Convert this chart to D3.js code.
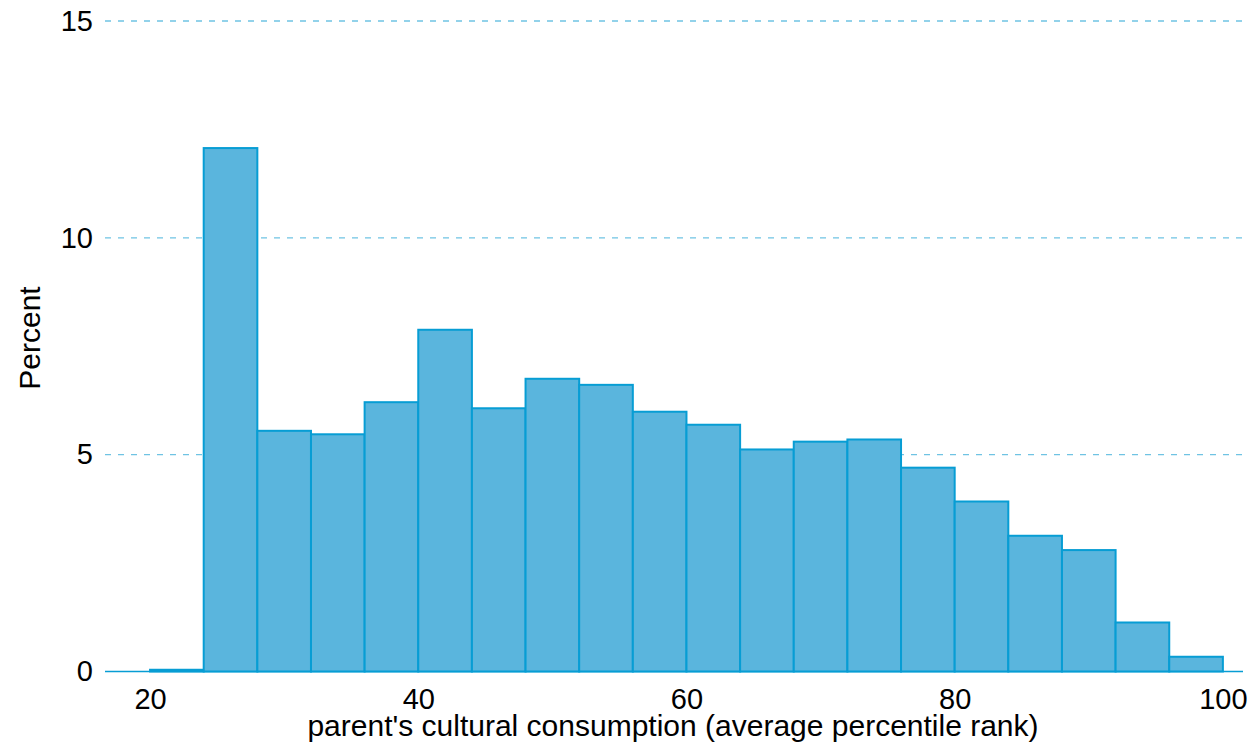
<!DOCTYPE html>
<html>
<head>
<meta charset="utf-8">
<script src="https://cdn.jsdelivr.net/npm/d3@7"></script>
<style>
  html, body { margin: 0; padding: 0; background: #fff; }
  svg { display: block; font-family: "Liberation Sans", Arial, sans-serif; }
</style>
</head>
<body>
<svg id="chart" width="1253" height="750"></svg>
<script>
// Bin left edges (width 4) and percent values
const binStarts = [20, 24, 28, 32, 36, 40, 44, 48, 52, 56, 60, 64, 68, 72, 76, 80, 84, 88, 92, 96];
const percents  = [0.04, 12.07, 5.55, 5.47, 6.21, 7.88, 6.07, 6.75, 6.61, 5.99, 5.69, 5.12, 5.30, 5.35, 4.70, 3.92, 3.13, 2.80, 1.13, 0.34];
const binWidth = 4;
const xTicks = [20, 40, 60, 80, 100];
const yTicks = [0, 5, 10, 15];
const xTitle = "parent's cultural consumption (average percentile rank)";
const yTitle = "Percent";

(function () {
const svg = d3.select("#chart");
const mLeft = 105, mRight = 1243, mTop = 21, mBottom = 671.5;

const x = d3.scaleLinear().domain([16.64, 101.5]).range([mLeft, mRight]);
const y = d3.scaleLinear().domain([0, 15]).range([mBottom, mTop]);

const fill = "#5ab5dd", stroke = "#079dd4", gridColor = "#6fc3e3";

// gridlines
svg.append("g").selectAll("line")
  .data(yTicks.filter(d => d > 0))
  .join("line")
  .attr("x1", mLeft).attr("x2", mRight)
  .attr("y1", d => y(d)).attr("y2", d => y(d))
  .attr("stroke", gridColor).attr("stroke-width", 1.4)
  .attr("stroke-dasharray", "6,7");

// baseline
svg.append("line")
  .attr("x1", mLeft).attr("x2", mRight)
  .attr("y1", y(0)).attr("y2", y(0))
  .attr("stroke", stroke).attr("stroke-width", 1.6);

// bars
svg.append("g").selectAll("rect")
  .data(binStarts.map((s, i) => ({ s, v: percents[i] })))
  .join("rect")
  .attr("x", d => x(d.s))
  .attr("width", d => x(d.s + binWidth) - x(d.s))
  .attr("y", d => y(d.v))
  .attr("height", d => y(0) - y(d.v))
  .attr("fill", fill)
  .attr("stroke", stroke)
  .attr("stroke-width", 2);

// y axis
const yAxis = d3.axisLeft(y).tickValues(yTicks).tickSize(0).tickPadding(0).tickFormat(d3.format("d"));
const yg = svg.append("g").attr("transform", `translate(93,0)`).call(yAxis);
yg.select(".domain").remove();
yg.selectAll("text").attr("font-size", 29).attr("fill", "#000").attr("font-family", "Liberation Sans, Arial, sans-serif");

// x axis
const xAxis = d3.axisBottom(x).tickValues(xTicks).tickSize(0).tickPadding(0).tickFormat(d3.format("d"));
const xg = svg.append("g").attr("transform", `translate(0,${mBottom + 17})`).call(xAxis);
xg.select(".domain").remove();
xg.selectAll("text").attr("font-size", 29).attr("fill", "#000").attr("font-family", "Liberation Sans, Arial, sans-serif");

// titles
svg.append("text")
  .attr("x", (mLeft + mRight) / 2 - 1)
  .attr("y", 736)
  .attr("text-anchor", "middle")
  .attr("font-size", 30)
  .attr("fill", "#000")
  .text(xTitle);

svg.append("text")
  .attr("transform", `translate(40,338) rotate(-90)`)
  .attr("text-anchor", "middle")
  .attr("font-size", 30)
  .attr("fill", "#000")
  .text(yTitle);
})();
</script>
</body>
</html>
